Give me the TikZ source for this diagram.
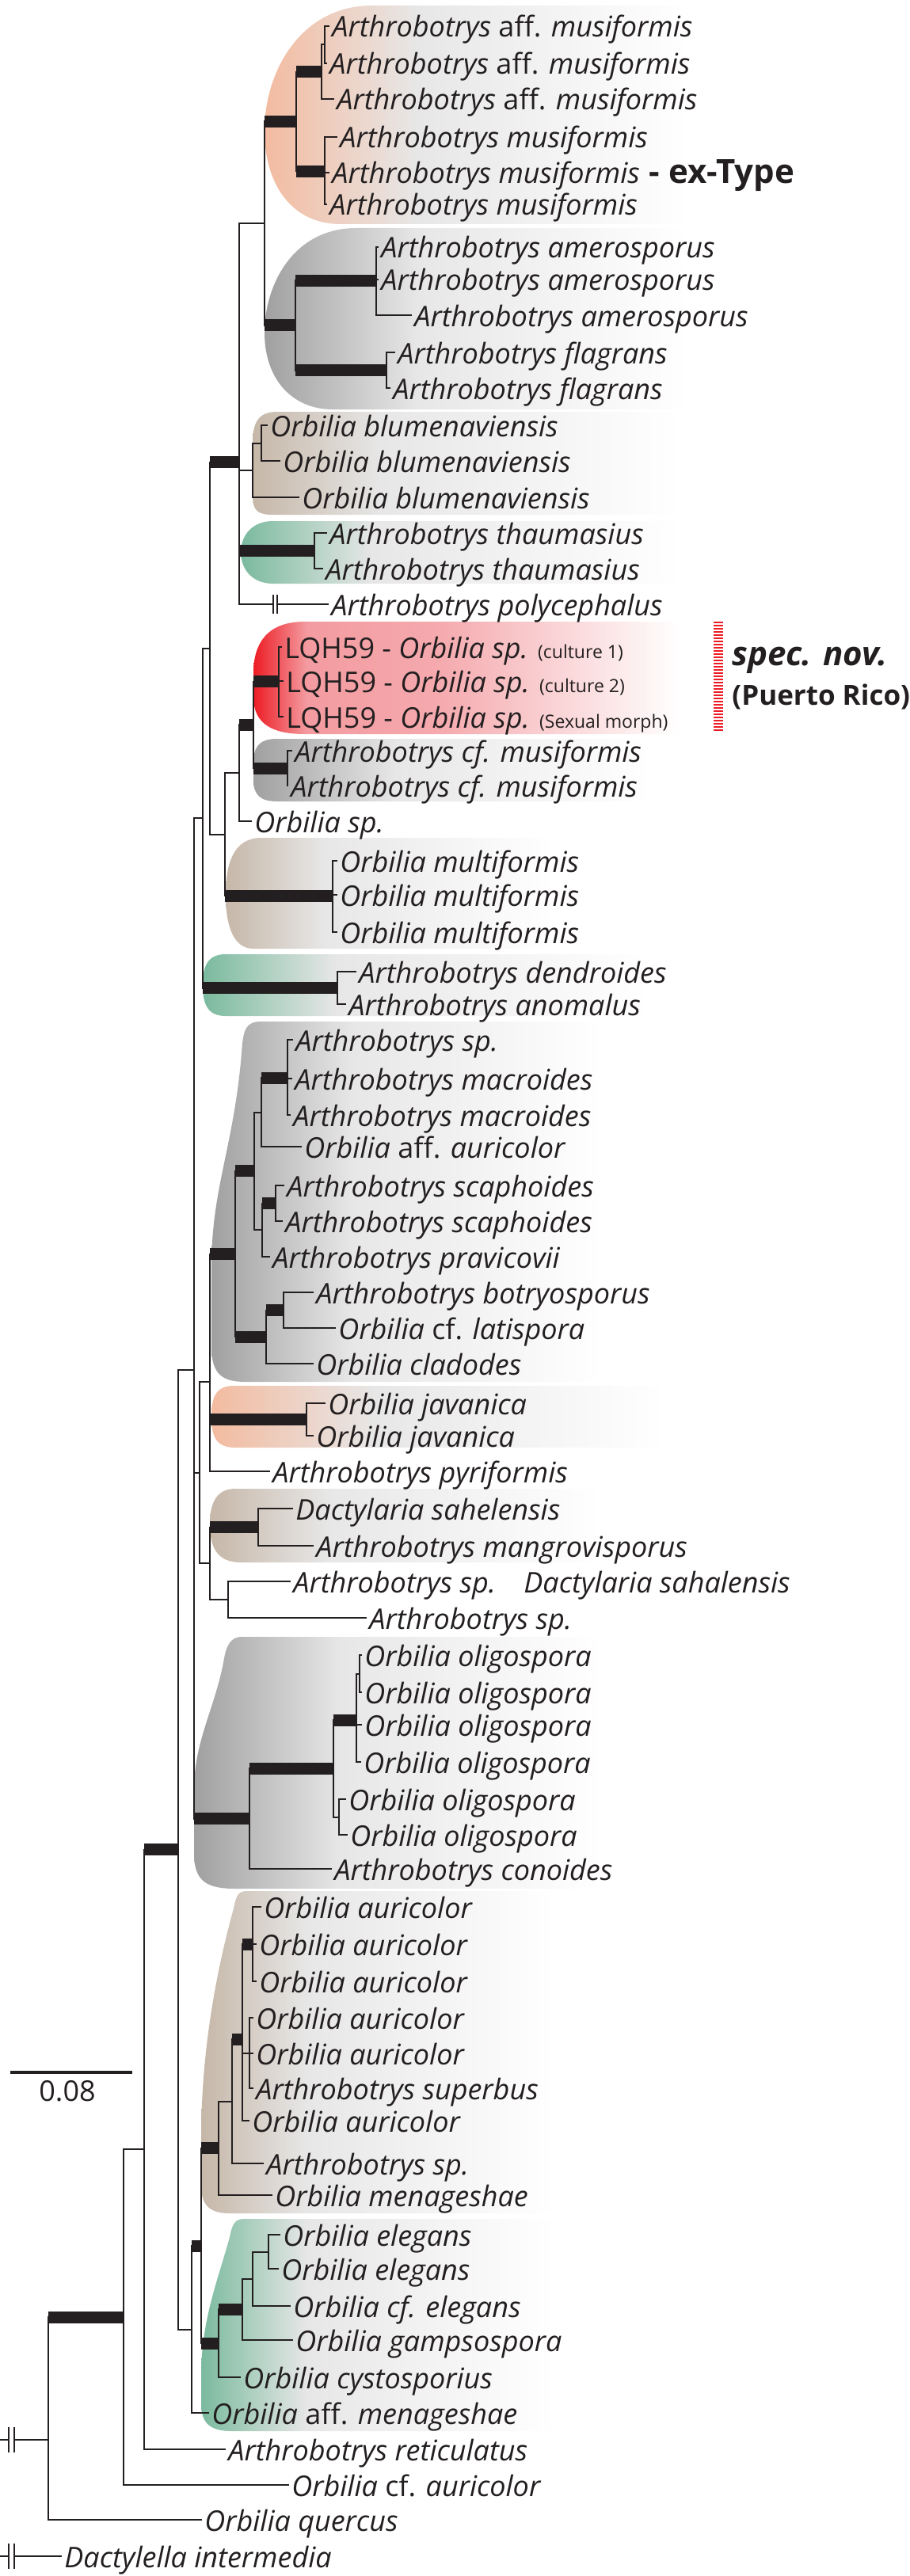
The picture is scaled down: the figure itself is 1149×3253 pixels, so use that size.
\documentclass[tikz,border=0pt]{standalone}
\usepackage{fontspec}
\setmainfont{Open Sans}
\usepackage{xcolor}
\usepackage{tikz}
\usetikzlibrary{positioning}
\definecolor{inkgray}{RGB}{35,31,32}
\definecolor{cladeorange}{RGB}{243,187,160}
\definecolor{cladegray}{RGB}{160,160,160}
\definecolor{cladebrown}{RGB}{198,183,168}
\definecolor{cladegreen}{RGB}{122,186,158}
\definecolor{cladered}{RGB}{237,28,36}
\definecolor{cladepink}{RGB}{243,155,160}
\definecolor{fadegray}{RGB}{231,231,231}
\pgfdeclarehorizontalshading{orangefade}{100bp}{color(0bp)=(cladeorange); color(25bp)=(cladeorange); color(43bp)=(fadegray); color(75bp)=(white); color(100bp)=(white)}
\pgfdeclarehorizontalshading{grayfade}{100bp}{color(0bp)=(cladegray); color(25bp)=(cladegray); color(43bp)=(fadegray); color(75bp)=(white); color(100bp)=(white)}
\pgfdeclarehorizontalshading{brownfade}{100bp}{color(0bp)=(cladebrown); color(25bp)=(cladebrown); color(40bp)=(fadegray); color(75bp)=(white); color(100bp)=(white)}
\pgfdeclarehorizontalshading{greenfade}{100bp}{color(0bp)=(cladegreen); color(25bp)=(cladegreen); color(40bp)=(fadegray); color(75bp)=(white); color(100bp)=(white)}
\pgfdeclarehorizontalshading{redfade}{100bp}{color(0bp)=(cladered); color(25bp)=(cladered); color(31bp)=(cladepink); color(46bp)=(cladepink!85!white); color(73bp)=(white); color(100bp)=(white)}
\tikzset{
  br/.style={draw=inkgray,line width=1pt},
  supp/.style={draw=inkgray,line width=7.5pt},
  tip/.style={anchor=base west,inner sep=1.5pt,yshift=-7pt,text=inkgray,
    font=\fontsize{18}{21}\selectfont\itshape},
  typetag/.style={inner sep=0pt,text=inkgray,
    font=\fontsize{21}{24}\selectfont\bfseries},
  novtag/.style={anchor=base west,inner sep=0pt,text=inkgray,
    font=\fontsize{17.5}{21}\selectfont\bfseries},
  brk/.style={draw=inkgray,line width=0.8pt},
  scalebar/.style={draw=inkgray,line width=2.2pt},
  novbar/.style={draw=cladered,line width=6pt,dash pattern=on 1pt off 1pt},
  orangeclade/.style={shading=orangefade},
  grayclade/.style={shading=grayfade},
  brownclade/.style={shading=brownfade},
  greenclade/.style={shading=greenfade},
  redclade/.style={shading=redfade},
}
\newcommand{\cult}[1]{\textup{\fontsize{11.5}{12}\selectfont #1}}

\begin{document}
\begin{tikzpicture}[x=0.5pt,y=-0.5pt]
  \useasboundingbox (0,0) rectangle (1149,3253);

  % clade backgrounds
  \shade[orangeclade] (870,7) -- (470,7) .. controls (380,7) and (334,90) .. (334,165) .. controls (334,235) and (370,283) .. (430,283) -- (870,283) -- cycle;
  \shade[grayclade] (870,288) -- (450,288) .. controls (370,288) and (334,360) .. (334,420) .. controls (334,480) and (370,517) .. (420,517) -- (870,517) -- cycle;
  \shade[brownclade] (860,520) -- (350,520) .. controls (325,520) and (319,535) .. (319,560) -- (319,625) .. controls (319,645) and (325,650) .. (345,650) -- (860,650) -- cycle;
  \shade[greenclade] (860,658) -- (345,658) .. controls (315,658) and (304,680) .. (304,697) .. controls (304,715) and (315,737) .. (345,737) -- (860,737) -- cycle;
  \shade[redclade] (880,785) -- (385,785) .. controls (335,785) and (320,815) .. (320,850) -- (320,880) .. controls (320,915) and (345,927) .. (385,927) -- (880,927) -- cycle;
  \shade[grayclade] (820,933) -- (350,933) .. controls (325,933) and (320,945) .. (320,965) -- (320,985) .. controls (320,1005) and (330,1012) .. (350,1012) -- (820,1012) -- cycle;
  \shade[brownclade] (700,1058) -- (330,1058) .. controls (295,1058) and (285,1090) .. (285,1130) .. controls (285,1170) and (295,1198) .. (320,1198) -- (700,1198) -- cycle;
  \shade[greenclade] (820,1205) -- (285,1205) .. controls (262,1205) and (256,1220) .. (256,1244) .. controls (256,1268) and (262,1283) .. (285,1283) -- (820,1283) -- cycle;
  \shade[grayclade] (760,1290) -- (330,1290) .. controls (310,1290) and (307,1300) .. (305,1330) .. controls (295,1450) and (267,1500) .. (267,1600) -- (267,1700) .. controls (267,1735) and (280,1745) .. (310,1745) -- (760,1745) -- cycle;
  \shade[orangeclade] (840,1750) -- (295,1750) .. controls (272,1750) and (267,1765) .. (267,1789) .. controls (267,1813) and (272,1828) .. (297,1828) -- (840,1828) -- cycle;
  \shade[brownclade] (760,1880) -- (297,1880) .. controls (272,1880) and (265,1900) .. (265,1925) .. controls (265,1955) and (275,1973) .. (304,1973) -- (760,1973) -- cycle;
  \shade[grayclade] (760,2067) -- (305,2067) .. controls (290,2067) and (285,2080) .. (282,2100) .. controls (270,2160) and (245,2200) .. (245,2260) -- (245,2340) .. controls (245,2375) and (260,2385) .. (297,2385) -- (760,2385) -- cycle;
  \shade[brownclade] (700,2388) -- (312,2388) .. controls (300,2388) and (298,2395) .. (295,2410) .. controls (270,2500) and (254,2600) .. (254,2700) -- (254,2760) .. controls (254,2785) and (265,2795) .. (290,2795) -- (700,2795) -- cycle;
  \shade[greenclade] (700,2802) -- (308,2802) .. controls (296,2802) and (293,2810) .. (290,2825) .. controls (275,2880) and (254,2930) .. (254,3000) -- (254,3035) .. controls (254,3060) and (265,3070) .. (293,3070) -- (700,3070) -- cycle;

  % internal nodes
  \coordinate (n1) at (410,56.5);   \coordinate (n2) at (406,90.8);
  \coordinate (n3) at (374,153.5);  \coordinate (n4) at (410,216.3);
  \coordinate (n5) at (475,354.3);  \coordinate (n6) at (488,467.5);
  \coordinate (n7) at (373,410.9);  \coordinate (n8) at (334,282.2);
  \coordinate (n9) at (330,559.5);  \coordinate (n10) at (319,593.8);
  \coordinate (n11) at (397,695.5); \coordinate (n12) at (302,583.6);
  \coordinate (n13) at (352,860.7); \coordinate (n14) at (363,970);
  \coordinate (n15) at (320,915.3); \coordinate (n16) at (302,976.2);
  \coordinate (n17) at (420,1131.3);\coordinate (n18) at (284,1053.7);
  \coordinate (n19) at (265,818.7); \coordinate (n20) at (426,1247.5);
  \coordinate (n21) at (256,1033.1);\coordinate (n22) at (363,1361);
  \coordinate (n23) at (330,1404.5);\coordinate (n24) at (348,1519.5);
  \coordinate (n25) at (331,1553.3);\coordinate (n26) at (321,1478.9);
  \coordinate (n27) at (358,1654.5);\coordinate (n28) at (336,1688.3);
  \coordinate (n29) at (297,1583.6);\coordinate (n30) at (387,1792.5);
  \coordinate (n31) at (265,1744.7);\coordinate (n32) at (326,1928.5);
  \coordinate (n33) at (288,2020);  \coordinate (n34) at (265,1974.3);
  \coordinate (n35) at (252,1859.5);\coordinate (n36) at (454,2113.5);
  \coordinate (n37) at (450,2172.2);\coordinate (n38) at (428,2294.5);
  \coordinate (n39) at (421,2233.3);\coordinate (n40) at (315,2296.7);
  \coordinate (n41) at (245,1729.8);\coordinate (n42) at (319,2455);
  \coordinate (n43) at (315,2592.7);\coordinate (n44) at (306,2575.2);
  \coordinate (n45) at (293,2653.6);\coordinate (n46) at (276,2712.8);
  \coordinate (n47) at (339,2843.5);\coordinate (n48) at (319,2877.8);
  \coordinate (n49) at (306,2916.4);\coordinate (n50) at (276,2959.2);
  \coordinate (n51) at (254,2836);  \coordinate (n52) at (242,2941.5);
  \coordinate (n53) at (225,2335.6);\coordinate (n54) at (182,2714.3);
  \coordinate (n55) at (156,2926.2);\coordinate (n56) at (61,3081);
  \coordinate (root) at (0,3081);   \coordinate (rootb) at (0,3228);

  % tips
  \coordinate (t1) at (416,33);   \node[tip] (lab1) at (t1) {Arthrobotrys \textup{aff.} musiformis};
  \coordinate (t2) at (413,80);   \node[tip] (lab2) at (t2) {Arthrobotrys \textup{aff.} musiformis};
  \coordinate (t3) at (422,125);  \node[tip] (lab3) at (t3) {Arthrobotrys \textup{aff.} musiformis};
  \coordinate (t4) at (426,173);  \node[tip] (lab4) at (t4) {Arthrobotrys musiformis};
  \coordinate (t5) at (416,218);  \node[tip] (lab5) at (t5) {Arthrobotrys musiformis};
  \coordinate (t6) at (413,258);  \node[tip] (lab6) at (t6) {Arthrobotrys musiformis};
  \coordinate (t7) at (478,312);  \node[tip] (lab7) at (t7) {Arthrobotrys amerosporus};
  \coordinate (t8) at (478,353);  \node[tip] (lab8) at (t8) {Arthrobotrys amerosporus};
  \coordinate (t9) at (520,398);  \node[tip] (lab9) at (t9) {Arthrobotrys amerosporus};
  \coordinate (t10) at (499,445); \node[tip] (lab10) at (t10) {Arthrobotrys flagrans};
  \coordinate (t11) at (493,490); \node[tip] (lab11) at (t11) {Arthrobotrys flagrans};
  \coordinate (t12) at (338,537); \node[tip] (lab12) at (t12) {Orbilia blumenaviensis};
  \coordinate (t13) at (354,582); \node[tip] (lab13) at (t13) {Orbilia blumenaviensis};
  \coordinate (t14) at (378,628); \node[tip] (lab14) at (t14) {Orbilia blumenaviensis};
  \coordinate (t15) at (413,673); \node[tip] (lab15) at (t15) {Arthrobotrys thaumasius};
  \coordinate (t16) at (408,718); \node[tip] (lab16) at (t16) {Arthrobotrys thaumasius};
  \coordinate (t17) at (415,763); \node[tip] (lab17) at (t17) {Arthrobotrys polycephalus};
  \coordinate (t18) at (356,817); \node[tip] (lab18) at (t18) {\textup{LQH59 -} Orbilia sp. \cult{(culture 1)}};
  \coordinate (t19) at (358,860); \node[tip] (lab19) at (t19) {\textup{LQH59 -} Orbilia sp. \cult{(culture 2)}};
  \coordinate (t20) at (358,905); \node[tip] (lab20) at (t20) {\textup{LQH59 -} Orbilia sp. \cult{(Sexual morph)}};
  \coordinate (t21) at (369,948); \node[tip] (lab21) at (t21) {Arthrobotrys cf. musiformis};
  \coordinate (t22) at (364,992); \node[tip] (lab22) at (t22) {Arthrobotrys cf. musiformis};
  \coordinate (t23) at (318,1037);\node[tip] (lab23) at (t23) {Orbilia sp.};
  \coordinate (t24) at (426,1087);\node[tip] (lab24) at (t24) {Orbilia multiformis};
  \coordinate (t25) at (426,1130);\node[tip] (lab25) at (t25) {Orbilia multiformis};
  \coordinate (t26) at (426,1177);\node[tip] (lab26) at (t26) {Orbilia multiformis};
  \coordinate (t27) at (450,1227);\node[tip] (lab27) at (t27) {Arthrobotrys dendroides};
  \coordinate (t28) at (437,1268);\node[tip] (lab28) at (t28) {Arthrobotrys anomalus};
  \coordinate (t29) at (370,1313);\node[tip] (lab29) at (t29) {Arthrobotrys sp.};
  \coordinate (t30) at (369,1362);\node[tip] (lab30) at (t30) {Arthrobotrys macroides};
  \coordinate (t31) at (367,1408);\node[tip] (lab31) at (t31) {Arthrobotrys macroides};
  \coordinate (t32) at (381,1448);\node[tip] (lab32) at (t32) {Orbilia \textup{aff.} auricolor};
  \coordinate (t33) at (359,1497);\node[tip] (lab33) at (t33) {Arthrobotrys scaphoides};
  \coordinate (t34) at (357,1542);\node[tip] (lab34) at (t34) {Arthrobotrys scaphoides};
  \coordinate (t35) at (341,1587);\node[tip] (lab35) at (t35) {Arthrobotrys pravicovii};
  \coordinate (t36) at (396,1632);\node[tip] (lab36) at (t36) {Arthrobotrys botryosporus};
  \coordinate (t37) at (424,1677);\node[tip] (lab37) at (t37) {Orbilia \textup{cf.} latispora};
  \coordinate (t38) at (396,1722);\node[tip] (lab38) at (t38) {Orbilia cladodes};
  \coordinate (t39) at (411,1772);\node[tip] (lab39) at (t39) {Orbilia javanica};
  \coordinate (t40) at (396,1813);\node[tip] (lab40) at (t40) {Orbilia javanica};
  \coordinate (t41) at (341,1858);\node[tip] (lab41) at (t41) {Arthrobotrys pyriformis};
  \coordinate (t42) at (370,1905);\node[tip] (lab42) at (t42) {Dactylaria sahelensis};
  \coordinate (t43) at (396,1952);\node[tip] (lab43) at (t43) {Arthrobotrys mangrovisporus};
  \coordinate (t44) at (367,1997);\node[tip] (lab44) at (t44) {Arthrobotrys sp.};
  \coordinate (t45) at (463,2043);\node[tip] (lab45) at (t45) {Arthrobotrys sp.};
  \coordinate (t46) at (457,2090);\node[tip] (lab46) at (t46) {Orbilia oligospora};
  \coordinate (t47) at (457,2137);\node[tip] (lab47) at (t47) {Orbilia oligospora};
  \coordinate (t48) at (457,2178);\node[tip] (lab48) at (t48) {Orbilia oligospora};
  \coordinate (t49) at (456,2225);\node[tip] (lab49) at (t49) {Orbilia oligospora};
  \coordinate (t50) at (437,2272);\node[tip] (lab50) at (t50) {Orbilia oligospora};
  \coordinate (t51) at (439,2317);\node[tip] (lab51) at (t51) {Orbilia oligospora};
  \coordinate (t52) at (419,2360);\node[tip] (lab52) at (t52) {Arthrobotrys conoides};
  \coordinate (t53) at (330,2408);\node[tip] (lab53) at (t53) {Orbilia auricolor};
  \coordinate (t54) at (324,2455);\node[tip] (lab54) at (t54) {Orbilia auricolor};
  \coordinate (t55) at (324,2502);\node[tip] (lab55) at (t55) {Orbilia auricolor};
  \coordinate (t56) at (320,2548);\node[tip] (lab56) at (t56) {Orbilia auricolor};
  \coordinate (t57) at (320,2593);\node[tip] (lab57) at (t57) {Orbilia auricolor};
  \coordinate (t58) at (320,2637);\node[tip] (lab58) at (t58) {Arthrobotrys superbus};
  \coordinate (t59) at (315,2678);\node[tip] (lab59) at (t59) {Orbilia auricolor};
  \coordinate (t60) at (333,2732);\node[tip] (lab60) at (t60) {Arthrobotrys sp.};
  \coordinate (t61) at (344,2772);\node[tip] (lab61) at (t61) {Orbilia menageshae};
  \coordinate (t62) at (354,2822);\node[tip] (lab62) at (t62) {Orbilia elegans};
  \coordinate (t63) at (352,2865);\node[tip] (lab63) at (t63) {Orbilia elegans};
  \coordinate (t64) at (367,2912);\node[tip] (lab64) at (t64) {Orbilia cf. elegans};
  \coordinate (t65) at (370,2955);\node[tip] (lab65) at (t65) {Orbilia gampsospora};
  \coordinate (t66) at (304,3002);\node[tip] (lab66) at (t66) {Orbilia cystosporius};
  \coordinate (t67) at (264,3047);\node[tip] (lab67) at (t67) {Orbilia \textup{aff.} menageshae};
  \coordinate (t68) at (285,3093);\node[tip] (lab68) at (t68) {Arthrobotrys reticulatus};
  \coordinate (t69) at (365,3138);\node[tip] (lab69) at (t69) {Orbilia \textup{cf.} auricolor};
  \coordinate (t70) at (255,3182);\node[tip] (lab70) at (t70) {Orbilia quercus};
  \coordinate (t71) at (78,3228); \node[tip] (lab71) at (t71) {Dactylella intermedia};

  \node[typetag,right=4pt of lab5.base east,anchor=base west] (extype) {- ex-Type};
  \node[tip] (dsah) at (658,1997) {Dactylaria sahalensis};

  % branches
  \foreach \p/\c in {n1/t1,n1/t2,n2/n1,n2/t3,n4/t4,n4/t5,n4/t6,n3/n2,n3/n4,
      n5/t7,n5/t8,n5/t9,n6/t10,n6/t11,n7/n5,n7/n6,n8/n3,n8/n7,
      n9/t12,n9/t13,n10/n9,n10/t14,n11/t15,n11/t16,n12/n8,n12/n10,n12/n11,n12/t17,
      n13/t18,n13/t19,n13/t20,n14/t21,n14/t22,n15/n13,n15/n14,n16/n15,n16/t23,
      n17/t24,n17/t25,n17/t26,n18/n16,n18/n17,n19/n12,n19/n18,n20/t27,n20/t28,n21/n19,n21/n20,
      n22/t29,n22/t30,n22/t31,n23/n22,n23/t32,n24/t33,n24/t34,n25/n24,n25/t35,n26/n23,n26/n25,
      n27/t36,n27/t37,n28/n27,n28/t38,n29/n26,n29/n28,n30/t39,n30/t40,n31/n29,n31/n30,n31/t41,
      n32/t42,n32/t43,n33/t44,n33/t45,n34/n32,n34/n33,n35/n31,n35/n34,
      n36/t46,n36/t47,n37/n36,n37/t48,n37/t49,n38/t50,n38/t51,n39/n37,n39/n38,n40/n39,n40/t52,
      n41/n21,n41/n35,n41/n40,
      n42/t53,n42/t54,n42/t55,n43/t56,n43/t57,n43/t58,n44/n42,n44/n43,n44/t59,n45/n44,n45/t60,
      n46/n45,n46/t61,n47/t62,n47/t63,n48/n47,n48/t64,n49/n48,n49/t65,n50/n49,n50/t66,
      n51/n46,n51/n50,n52/n51,n52/t67,n53/n41,n53/n52,n54/n53,n54/t68,n55/n54,n55/t69,
      n56/n55,n56/t70,root/n56,rootb/t71}
    \draw[br] (\p) |- (\c);
  % supported branches
  \foreach \p/\c in {n3/n2,n3/n4,n8/n3,n7/n5,n7/n6,n8/n7,n12/n11,n19/n12,n15/n13,n15/n14,
      n16/n15,n18/n17,n21/n20,n23/n22,n25/n24,n29/n26,n28/n27,n29/n28,n31/n29,n31/n30,
      n34/n32,n39/n37,n40/n39,n41/n40,n44/n42,n45/n44,n51/n46,n50/n49,n51/n50,n52/n51,
      n54/n53,n56/n55}
    \draw[supp] (\p |- \c) -- (\c);

  % broken branches
  \fill[white] (346,758) rectangle (349,768);
  \draw[brk] (345,751) -- (345,775);
  \draw[brk] (350,751) -- (350,775);
  \fill[white] (12,3076) rectangle (17,3086);
  \draw[brk] (11,3065) -- (11,3097);
  \draw[brk] (18,3065) -- (18,3097);
  \fill[white] (12,3223) rectangle (17,3233);
  \draw[brk] (11,3212) -- (11,3244);
  \draw[brk] (18,3212) -- (18,3244);

  % new species mark
  \coordinate (novtop) at (907,785);
  \coordinate (novbot) at (907,923);
  \draw[novbar] (novtop) -- (novbot);
  \node[novtag,font=\fontsize{21}{24}\selectfont\bfseries\itshape] (specnov) at (924,840) {spec. nov.};
  \node[novtag] (prico) at (924,890) {(Puerto Rico)};

  % scale
  \coordinate (sbl) at (13,2617);
  \coordinate (sbr) at (167,2617);
  \draw[scalebar] (sbl) -- (sbr);
  \node[text=inkgray,font=\fontsize{18}{21}\selectfont,inner sep=0pt] (sblab) at (85,2641) {0.08};
\end{tikzpicture}
\end{document}
